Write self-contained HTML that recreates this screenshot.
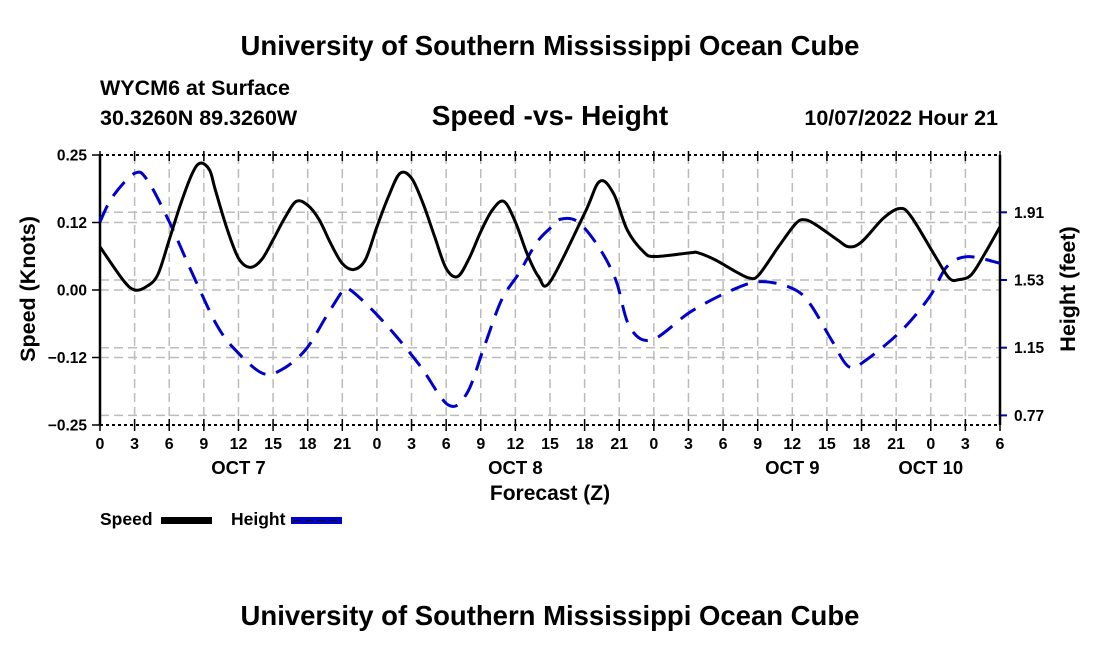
<!DOCTYPE html>
<html><head><meta charset="utf-8"><style>
body{margin:0;background:#fff;}
svg{display:block;font-family:"Liberation Sans",Arial,sans-serif;font-weight:bold;}
</style></head><body>
<svg id="chart" width="1100" height="650" viewBox="0 0 1100 650">
<text x="550" y="55" font-size="27.5" text-anchor="middle">University of Southern Mississippi Ocean Cube</text>
<text x="100" y="95" font-size="21.5">WYCM6 at Surface</text>
<text x="100" y="125" font-size="21.5">30.3260N  89.3260W</text>
<text x="550" y="125" font-size="28" text-anchor="middle">Speed -vs- Height</text>
<text x="998" y="125" font-size="21.5" text-anchor="end">10/07/2022 Hour 21</text>
<g id="grid"></g>
<g id="axes"></g>
<g id="series"></g>
<text transform="translate(35,289) rotate(-90)" font-size="21.5" text-anchor="middle">Speed (Knots)</text>
<text transform="translate(1075,289) rotate(-90)" font-size="21.5" text-anchor="middle">Height (feet)</text>
<text x="550" y="500" font-size="21" text-anchor="middle">Forecast (Z)</text>
<g>
<text x="100" y="525" font-size="17.5">Speed</text>
<rect x="161" y="517" width="51" height="7" fill="#000"/>
<text x="231" y="525" font-size="17.5">Height</text>
<rect x="291" y="517" width="51" height="7" fill="#00c"/>
<line x1="293" y1="520.5" x2="342" y2="520.5" stroke="#000" stroke-width="1" stroke-dasharray="8 4"/>
</g>
<text x="550" y="625" font-size="27.5" text-anchor="middle">University of Southern Mississippi Ocean Cube</text>
</svg>
<script>
const speedHours=[0,2,3,4,5,6,7,8,8.7,9.5,10,11,12,13,14,15,16,17,18,19,20,21,22,23,24,25,26,27,28,29,30,31,32,33,34,35,36,37,38,39,42,43.3,44.5,45.7,47.1,48.1,51.2,51.8,53.3,55.1,56.3,57.1,58.8,60.3,61.1,62.1,63.9,64.9,66,67.9,69.3,70.3,72.4,73.6,74.4,75.5,76.7,78];
const speedValues=[0.080,0.0185,0.0,0.006,0.028,0.093,0.160,0.216,0.235,0.222,0.185,0.114,0.059,0.042,0.056,0.093,0.133,0.164,0.157,0.130,0.086,0.049,0.038,0.056,0.117,0.173,0.216,0.207,0.160,0.099,0.040,0.025,0.059,0.108,0.148,0.164,0.126,0.068,0.025,0.015,0.142,0.201,0.179,0.111,0.071,0.062,0.069,0.069,0.056,0.034,0.022,0.028,0.080,0.123,0.130,0.120,0.093,0.080,0.089,0.133,0.151,0.136,0.062,0.022,0.019,0.028,0.068,0.117];
const heightHours=[0,1.1,3,4.1,6,8,10.2,12,14.1,15.7,17.8,19.6,21.1,21.7,23.6,25.7,27.8,30.2,31.8,33.3,34.8,36.3,37.8,39,39.9,41.4,43.2,44.7,45.9,47.8,51.2,54.8,57.3,60,61.5,63.4,64.9,66.4,69.5,71.9,73.4,75.2,78];
const heightValues=[1.857,1.998,2.129,2.091,1.857,1.567,1.268,1.119,1.006,1.025,1.137,1.324,1.474,1.474,1.362,1.212,1.043,0.828,0.894,1.156,1.418,1.567,1.736,1.820,1.871,1.857,1.717,1.53,1.268,1.193,1.352,1.474,1.521,1.483,1.399,1.193,1.043,1.081,1.249,1.436,1.605,1.661,1.624];
const xTickLabels=["0","3","6","9","12","15","18","21","0","3","6","9","12","15","18","21","0","3","6","9","12","15","18","21","0","3","6"];
const dayLabels=["OCT 7","OCT 8","OCT 9","OCT 10"];
const dayLabelHours=[12,36,60,72];
const speedTicks=[0.25,0.125,0,-0.125,-0.25];
const speedTickLabels=["0.25","0.12","0.00","\u22120.12","\u22120.25"];
const heightTicks=[1.91,1.53,1.15,0.77];
const heightTickLabels=["1.91","1.53","1.15","0.77"];

const X0=100,X1=1000,Y0=155,Y1=425,HMAX=78;
const xS=h=>X0+h/HMAX*(X1-X0);
const yS=v=>290-v*540;
const yH=v=>280-(v-1.53)/0.005613;
const NS="http://www.w3.org/2000/svg";
function mk(tag,attrs,parent){const e=document.createElementNS(NS,tag);for(const k in attrs)e.setAttribute(k,attrs[k]);parent.appendChild(e);return e;}
const grid=document.getElementById('grid'),axes=document.getElementById('axes'),series=document.getElementById('series');
const gs={stroke:"#bbb","stroke-width":1.5,"stroke-dasharray":"9 5"};
xTickLabels.forEach((t,i)=>{const x=xS(i*3);
 if(i>0&&i<xTickLabels.length-1){const l=mk('line',Object.assign({x1:x,y1:Y0,x2:x,y2:Y1},gs),grid);
 
 }
 const tk=mk('line',{x1:x,y1:Y1-6,x2:x,y2:Y1+6,stroke:"#000","stroke-width":1.5},axes);
 
 
 const tt=mk('line',{x1:x,y1:Y0-4,x2:x,y2:Y0+6,stroke:"#000","stroke-width":1.5},axes);
 
 
 const tx=mk('text',{x:x,y:449,"font-size":16,"text-anchor":"middle"},axes);tx.textContent=t;
 
 
});
dayLabels.forEach((d,i)=>{const tx=mk('text',{x:xS(dayLabelHours[i]),y:474,"font-size":18.5,"text-anchor":"middle"},axes);tx.textContent=d;
 
 });
speedTicks.forEach((v,i)=>{const y=yS(v);
 if(i>0&&i<speedTicks.length-1){const l=mk('line',Object.assign({x1:X0,y1:y,x2:X1,y2:y},gs),grid);
 
 }
 const tk=mk('line',{x1:X0-8,y1:y,x2:X0,y2:y,stroke:"#000","stroke-width":1.5},axes);
 
 
 const tx=mk('text',{x:87,y:y+5.5,"font-size":15.5,"text-anchor":"end"},axes);tx.textContent=speedTickLabels[i];
 
 });
heightTicks.forEach((v,i)=>{const y=yH(v);
 const l=mk('line',Object.assign({x1:X0,y1:y,x2:X1,y2:y},gs),grid);
 
 
 const tk=mk('line',{x1:X1,y1:y,x2:X1+7,y2:y,stroke:"#00c","stroke-width":2},axes);
 
 
 const tx=mk('text',{x:1014,y:y+5.5,"font-size":15.5},axes);tx.textContent=heightTickLabels[i];
 
 });
const fl=mk('line',{x1:X0,y1:Y0,x2:X0,y2:Y1,stroke:"#000","stroke-width":2.5},axes);


const fr=mk('line',{x1:X1,y1:Y0,x2:X1,y2:Y1,stroke:"#000","stroke-width":2.5},axes);


const ft=mk('line',{x1:X0,y1:Y0,x2:X1,y2:Y0,stroke:"#000","stroke-width":2,"stroke-dasharray":"3 3"},axes);


const fb=mk('line',{x1:X0,y1:Y1,x2:X1,y2:Y1,stroke:"#000","stroke-width":2,"stroke-dasharray":"3 3"},axes);


function smooth(hs,vs,fy){const p=hs.map((h,i)=>[xS(h),fy(vs[i])]);let d="M"+p[0][0]+","+p[0][1];
 for(let i=0;i<p.length-1;i++){const a=p[Math.max(0,i-1)],b=p[i],c=p[i+1],e=p[Math.min(p.length-1,i+2)];
 const c1=[b[0]+(c[0]-a[0])/6,b[1]+(c[1]-a[1])/6],c2=[c[0]-(e[0]-b[0])/6,c[1]-(e[1]-b[1])/6];
 d+=` C${c1[0]},${c1[1]} ${c2[0]},${c2[1]} ${c[0]},${c[1]}`;}return d;}
const hp=mk('path',{d:smooth(heightHours,heightValues,yH),fill:"none",stroke:"#00c","stroke-width":3,"stroke-dasharray":"18 11"},series);


const sp=mk('path',{d:smooth(speedHours,speedValues,yS),fill:"none",stroke:"#000","stroke-width":3,"stroke-linejoin":"round"},series);


</script>
</body></html>
